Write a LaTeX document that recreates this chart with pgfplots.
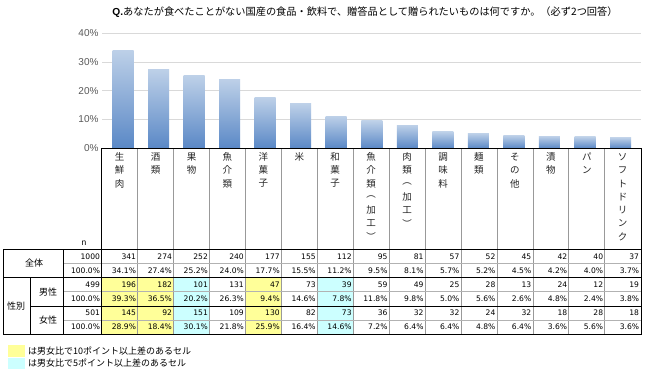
\documentclass[border=0pt]{standalone}
\usepackage{fontspec}
\usepackage{pgfplots}
\pgfplotsset{compat=1.18}
\setmainfont{Noto Sans CJK JP}
\newfontfamily\latin{Liberation Sans}
\newfontfamily\numf{DejaVu Sans}
\definecolor{cy}{HTML}{FFFF99}
\definecolor{cc}{HTML}{CCFFFF}
\definecolor{bartop}{HTML}{BDD0E8}
\definecolor{barbot}{HTML}{5A88C6}
\tikzset{mybar/.style={draw=none, top color=bartop, bottom color=barbot}}
\begin{document}
\begin{tikzpicture}
\path[use as bounding box] (0pt,0pt) rectangle (650pt,377pt);
\fill[white] (0pt,0pt) rectangle (650pt,377pt);
\begin{axis}[at={(102pt,228.7pt)}, anchor=south west, scale only axis,
  width=539pt, height=115pt, xmin=-0.591, xmax=14.575, ymin=0, ymax=40,
  axis line style={draw=none}, xtick=\empty, ytick={0,10,20,30,40},
  yticklabel={\pgfmathprintnumber{\tick}\%},
  /pgf/number format/assume math mode=true,
  ymajorgrids, grid style={draw=black!15, line width=0.8pt},
  major tick length=0pt,
  tick label style={font=\latin\fontsize{10}{12}\selectfont, text=black!65},
  ybar, bar width=21pt, bar shift=0pt, clip=false]
\addplot[mybar] coordinates {(0,34.1)};
\addplot[mybar] coordinates {(1,27.4)};
\addplot[mybar] coordinates {(2,25.2)};
\addplot[mybar] coordinates {(3,24.0)};
\addplot[mybar] coordinates {(4,17.7)};
\addplot[mybar] coordinates {(5,15.5)};
\addplot[mybar] coordinates {(6,11.2)};
\addplot[mybar] coordinates {(7,9.5)};
\addplot[mybar] coordinates {(8,8.1)};
\addplot[mybar] coordinates {(9,5.7)};
\addplot[mybar] coordinates {(10,5.2)};
\addplot[mybar] coordinates {(11,4.5)};
\addplot[mybar] coordinates {(12,4.2)};
\addplot[mybar] coordinates {(13,4.0)};
\addplot[mybar] coordinates {(14,3.7)};
\end{axis}
\begin{scope}[x=1pt,y=-1pt,shift={(0pt,377pt)}]
% title
\node[anchor=center] at (365,12) {\fontsize{10.2}{12}\selectfont{\latin\bfseries Q.}あなたが食べたことがない国産の食品・飲料で、贈答品として贈られたいものは何ですか。（必ず2つ回答）};
% highlights
\foreach \i in {0,1,4} {
  \pgfmathsetmacro\xl{101.7+\i*35.93}
  \fill[cy] (\xl,277.3) rectangle ++(35.93,56.9);
}
\foreach \i in {2,6} {
  \pgfmathsetmacro\xl{101.7+\i*35.93}
  \fill[cc] (\xl,277.3) rectangle ++(35.93,56.9);
}
% vertical labels
\foreach \i/\lab in {0/{生,鮮,肉},1/{酒,類},2/{果,物},3/{魚,介,類},4/{洋,菓,子},5/{米},6/{和,菓,子},7/{魚,介,類,︵,加,工,︶},8/{肉,類,︵,加,工,︶},9/{調,味,料},10/{麺,類},11/{そ,の,他},12/{漬,物},13/{パ,ン},14/{ソ,フ,ト,ド,リ,ン,ク}} {
  \pgfmathsetmacro\xc{101.7+(\i+0.5)*35.93}
  \foreach \c [count=\k from 0] in \lab {
    \node[inner sep=0, text=black!85] at (\xc,157+\k*13.3) {\fontsize{9.5}{10}\selectfont\c};
  }
}
\node[inner sep=0] at (84,243) {\latin\fontsize{8.5}{10}\selectfont n};
% thin grid lines
\foreach \i in {1,...,14} {
  \pgfmathsetmacro\xl{101.7+\i*35.93}
  \draw[black!40, line width=0.6pt] (\xl,148.3) -- (\xl,334.3);
}
\draw[black!30, line width=0.5pt] (63.3,263.3) -- (641.7,263.3);
\draw[black!30, line width=0.5pt] (63.3,291.7) -- (641.7,291.7);
\draw[black!30, line width=0.5pt] (63.3,320) -- (641.7,320);
% black lines
\draw[black, line width=1.2pt] (101.7,334.3) -- (101.7,148.3) -- (641.7,148.3) -- (641.7,334.3);
\draw[black, line width=1.2pt] (3,249.3) -- (641.7,249.3);
\draw[black, line width=1.2pt] (3,277.3) -- (641.7,277.3);
\draw[black, line width=1.2pt] (3,334.3) -- (641.7,334.3);
\draw[black, line width=0.8pt] (30,306) -- (641.7,306);
\draw[black, line width=0.8pt] (3,249.3) -- (3,334.3);
\draw[black, line width=0.6pt] (30,277.3) -- (30,334.3);
\draw[black, line width=0.6pt] (63.3,249.3) -- (63.3,334.3);
% left labels
\node at (34,263.3) {\fontsize{9}{10}\selectfont 全体};
\node at (16,305.7) {\fontsize{9}{10}\selectfont 性別};
\node at (48,291.6) {\fontsize{9}{10}\selectfont 男性};
\node at (48,320.1) {\fontsize{9}{10}\selectfont 女性};
% n column
\foreach \v/\y in {1000/256.3,499/284.5,501/313.1} {
  \node[anchor=east, inner sep=0] at (100.2,\y) {\numf\fontsize{7.6}{9}\selectfont \v};
}
\foreach \y in {270.3,298.9,327.2} {
  \node[anchor=east, inner sep=0] at (100.2,\y) {\numf\fontsize{7.6}{9}\selectfont 100.0\%};
}
% data
\foreach \y/\row in {256.3/{341,274,252,240,177,155,112,95,81,57,52,45,42,40,37},
                     284.5/{196,182,101,131,47,73,39,59,49,25,28,13,24,12,19},
                     313.1/{145,92,151,109,130,82,73,36,32,32,24,32,18,28,18}} {
  \foreach \v [count=\i from 1] in \row {
    \pgfmathsetmacro\xr{101.7+\i*35.93-1.4}
    \node[anchor=east, inner sep=0] at (\xr,\y) {\numf\fontsize{7.6}{9}\selectfont \v};
  }
}
\foreach \y/\row in {270.3/{34.1,27.4,25.2,24.0,17.7,15.5,11.2,9.5,8.1,5.7,5.2,4.5,4.2,4.0,3.7},
                     298.9/{39.3,36.5,20.2,26.3,9.4,14.6,7.8,11.8,9.8,5.0,5.6,2.6,4.8,2.4,3.8},
                     327.2/{28.9,18.4,30.1,21.8,25.9,16.4,14.6,7.2,6.4,6.4,4.8,6.4,3.6,5.6,3.6}} {
  \foreach \v [count=\i from 1] in \row {
    \pgfmathsetmacro\xr{101.7+\i*35.93-1.4}
    \node[anchor=east, inner sep=0] at (\xr,\y) {\numf\fontsize{7.6}{9}\selectfont \v\%};
  }
}
% legend
\fill[cy] (8,345) rectangle (25,356.7);
\fill[cc] (8,358) rectangle (25,369);
\node[anchor=west, inner sep=0] at (28,350.8) {\fontsize{9}{10}\selectfont は男女比で10ポイント以上差のあるセル};
\node[anchor=west, inner sep=0] at (28,363.5) {\fontsize{9}{10}\selectfont は男女比で5ポイント以上差のあるセル};
\end{scope}
\end{tikzpicture}
\end{document}
